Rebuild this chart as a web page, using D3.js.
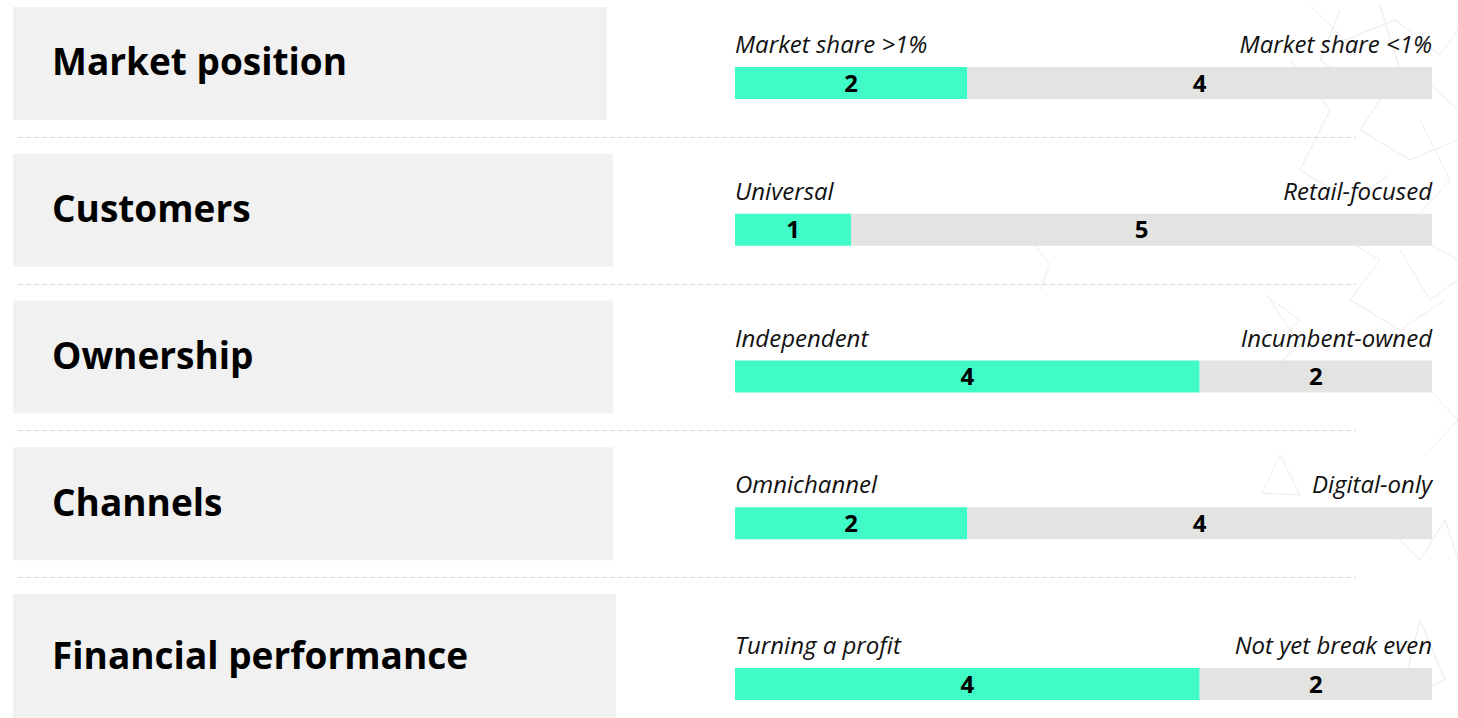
<!DOCTYPE html>
<html>
<head>
<meta charset="utf-8">
<script src="https://cdn.jsdelivr.net/npm/d3@7"></script>
<style>
  html, body { margin: 0; padding: 0; background: #fff; overflow: hidden; }
  svg { display: block; font-family: "Open Sans", sans-serif; }
</style>
</head>
<body>
<div id="chart"></div>
<script>
// Row categories and the two ends of each scale
const categories = ["Market position", "Customers", "Ownership", "Channels", "Financial performance"];
const leftLabels = ["Market share >1%", "Universal", "Independent", "Omnichannel", "Turning a profit"];
const rightLabels = ["Market share <1%", "Retail-focused", "Incumbent-owned", "Digital-only", "Not yet break even"];

// Counts on each side
const leftValues = [2, 1, 4, 2, 4];
const rightValues = [4, 5, 2, 4, 2];

const width = 1458, height = 718;

const svg = d3.select("#chart").append("svg")
    .attr("width", width)
    .attr("height", height);

// Faint decorative network in the right background
const deco = svg.append("g")
    .attr("fill", "none")
    .attr("stroke", "#ebebeb")
    .attr("stroke-width", 1);
const decoPaths = [
    "M1310,5 L1345,40 L1395,20 L1440,55 L1458,30",
    "M1340,10 L1320,60 L1370,95 L1420,75 L1458,110",
    "M1380,5 L1400,70 L1360,130 L1410,160 L1458,140",
    "M1290,60 L1330,110 L1300,170 L1350,200 L1390,175",
    "M1420,120 L1450,180 L1405,230 L1458,260",
    "M1330,230 L1380,260 L1350,300 L1400,330 L1445,300",
    "M1400,250 L1430,300 L1458,280",
    "M1270,300 L1300,345 L1260,380",
    "M1420,380 L1458,420 L1430,450",
    "M1380,520 L1420,560 L1445,520 L1458,560",
    "M1280,455 L1300,495 L1262,493 Z",
    "M1420,620 L1445,680 L1400,700 Z",
    "M1035,245 L1050,265 L1040,290",
    "M1265,295 L1300,320 L1280,340"
];
deco.selectAll("path")
    .data(decoPaths)
    .enter()
    .append("path")
    .attr("d", d => d);

// Row layout
const y = d3.scaleBand()
    .domain(categories)
    .range([7, 7 + 146.75 * categories.length])
    .padding(0);

const last = categories.length - 1;
const boxRight = i => i === 0 ? 607 : (i === last ? 616 : 613);
const boxHeight = i => i === last ? 127 : 113;

// Bar scale
const total = 6;
const x = d3.scaleLinear()
    .domain([0, total])
    .range([735, 1432]);

const barH = 32;
const barTop = d => y(d.category) + boxHeight(d.i) - 53;

const rows = categories.map((c, i) => ({
    category: c,
    left: leftValues[i],
    right: rightValues[i],
    leftLabel: leftLabels[i],
    rightLabel: rightLabels[i],
    i: i
}));

// Dashed separators
svg.append("g")
    .selectAll("line")
    .data(categories.slice(1))
    .enter()
    .append("line")
    .attr("x1", 18)
    .attr("x2", 1356)
    .attr("y1", d => Math.round(y(d) - 17) + 0.5)
    .attr("y2", d => Math.round(y(d) - 17) + 0.5)
    .attr("stroke", "#d6d6d6")
    .attr("stroke-width", 1)
    .attr("stroke-dasharray", "5,3");

const row = svg.selectAll("g.row")
    .data(rows)
    .enter()
    .append("g")
    .attr("class", "row");

// Grey title boxes
row.append("rect")
    .attr("x", 13)
    .attr("y", d => y(d.category))
    .attr("width", d => boxRight(d.i) - 13)
    .attr("height", d => boxHeight(d.i))
    .attr("fill", "#f1f1f1");

row.append("text")
    .attr("x", 52)
    .attr("y", d => y(d.category) + boxHeight(d.i) / 2 - 1.5)
    .attr("dy", "0.36em")
    .style("font-size", "37px")
    .style("font-weight", 700)
    .attr("fill", "#000")
    .text(d => d.category);

// Stacked bars
row.append("rect")
    .attr("x", x(0))
    .attr("y", d => barTop(d))
    .attr("width", d => x(d.left) - x(0))
    .attr("height", barH)
    .attr("fill", "#40fbc8");

row.append("rect")
    .attr("x", d => x(d.left))
    .attr("y", d => barTop(d))
    .attr("width", d => x(d.left + d.right) - x(d.left))
    .attr("height", barH)
    .attr("fill", "#e3e3e2");

// Value labels
row.append("text")
    .attr("x", d => (x(0) + x(d.left)) / 2)
    .attr("y", d => barTop(d) + barH / 2)
    .attr("dy", "0.36em")
    .attr("text-anchor", "middle")
    .style("font-size", "24px")
    .style("font-weight", 700)
    .text(d => d.left);

row.append("text")
    .attr("x", d => (x(d.left) + x(d.left + d.right)) / 2)
    .attr("y", d => barTop(d) + barH / 2)
    .attr("dy", "0.36em")
    .attr("text-anchor", "middle")
    .style("font-size", "24px")
    .style("font-weight", 700)
    .text(d => d.right);

// End labels
row.append("text")
    .attr("x", x(0))
    .attr("y", d => barTop(d) - 14)
    .style("font-size", "24px")
    .style("font-style", "italic")
    .attr("fill", "#111")
    .text(d => d.leftLabel);

row.append("text")
    .attr("x", x(total))
    .attr("y", d => barTop(d) - 14)
    .attr("text-anchor", "end")
    .style("font-size", "24px")
    .style("font-style", "italic")
    .attr("fill", "#111")
    .text(d => d.rightLabel);
</script>
</body>
</html>
